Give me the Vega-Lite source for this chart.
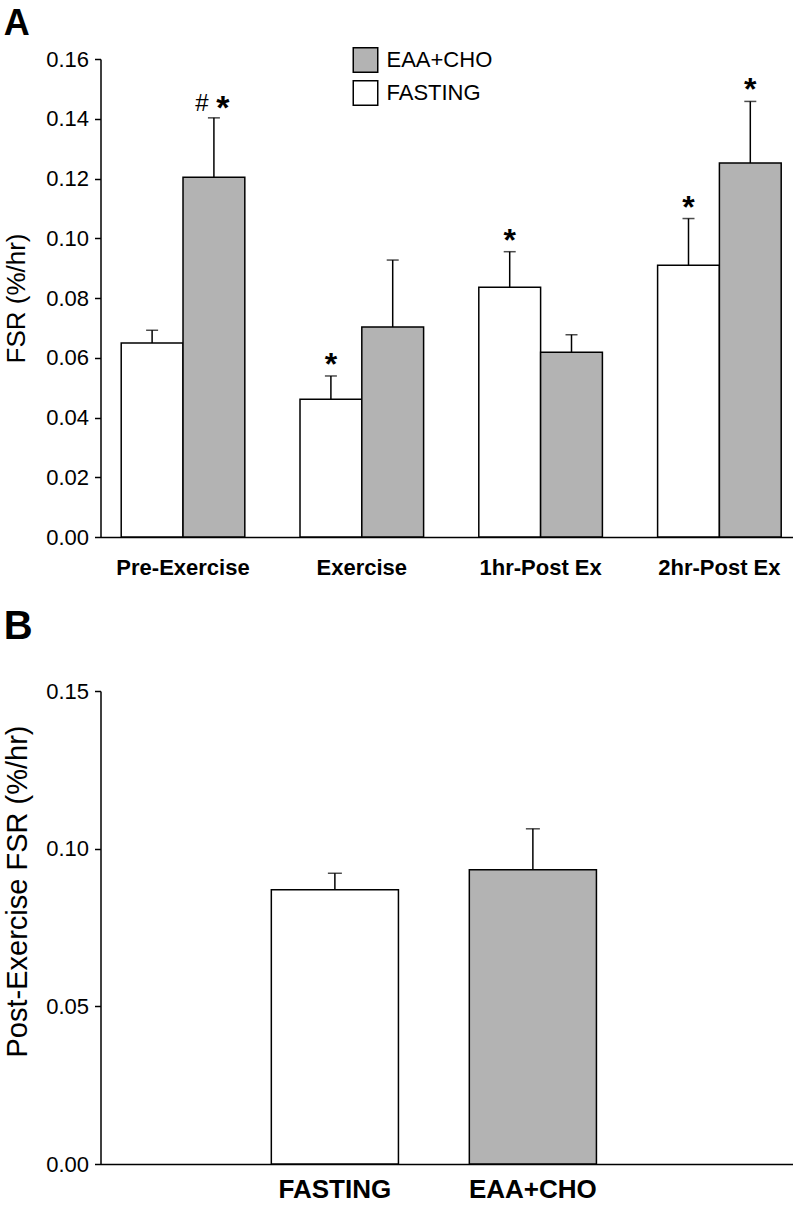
{
  "$schema": "https://vega.github.io/schema/vega-lite/v6.json",
  "padding": {"left": 3.5, "top": 6, "right": 4, "bottom": 0},
  "background": "white",
  "config": {
    "font": "Liberation Sans",
    "view": {"stroke": null},
    "axis": {"domainColor": "black", "domainWidth": 1.5, "tickColor": "black", "tickWidth": 1.5, "labelColor": "black", "titleColor": "black", "grid": false, "labelFont": "Liberation Sans", "titleFont": "Liberation Sans", "titleFontWeight": "normal"},
    "title": {"color": "black", "font": "Liberation Sans", "fontWeight": "bold"}
  },
  "spacing": 28,
  "resolve": {"scale": {"x": "independent", "y": "independent", "fill": "independent"}},
  "vconcat": [
    {
      "title": {"text": "A", "anchor": "start", "frame": "bounds", "fontSize": 36, "offset": 4},
      "width": 692,
      "height": 478,
      "data": {"values": [
        {"phase": "Pre-Exercise", "cond": "FASTING", "fsr": 0.0649, "upper": 0.0692, "star": "", "hash": ""},
        {"phase": "Pre-Exercise", "cond": "EAA+CHO", "fsr": 0.1204, "upper": 0.1403, "star": "*", "hash": "#"},
        {"phase": "Exercise", "cond": "FASTING", "fsr": 0.0461, "upper": 0.0539, "star": "*", "hash": ""},
        {"phase": "Exercise", "cond": "EAA+CHO", "fsr": 0.0703, "upper": 0.0927, "star": "", "hash": ""},
        {"phase": "1hr-Post Ex", "cond": "FASTING", "fsr": 0.0836, "upper": 0.0955, "star": "*", "hash": ""},
        {"phase": "1hr-Post Ex", "cond": "EAA+CHO", "fsr": 0.0618, "upper": 0.0677, "star": "", "hash": ""},
        {"phase": "2hr-Post Ex", "cond": "FASTING", "fsr": 0.0910, "upper": 0.1066, "star": "*", "hash": ""},
        {"phase": "2hr-Post Ex", "cond": "EAA+CHO", "fsr": 0.1252, "upper": 0.1458, "star": "*", "hash": ""}
      ]},
      "encoding": {
        "x": {"field": "phase", "type": "nominal", "sort": ["Pre-Exercise", "Exercise", "1hr-Post Ex", "2hr-Post Ex"],
              "scale": {"paddingInner": 0.3087, "paddingOuter": 0.0895, "align": 0.647},
              "axis": {"title": null, "labelAngle": 0, "labelFontSize": 22, "labelFontWeight": "bold", "ticks": false, "tickSize": 0, "labelPadding": 20}},
        "xOffset": {"field": "cond", "type": "nominal", "sort": ["FASTING", "EAA+CHO"], "scale": {"paddingInner": 0, "paddingOuter": 0}}
      },
      "layer": [
        {
          "mark": {"type": "bar", "stroke": "black", "strokeWidth": 1.5},
          "encoding": {
            "y": {"field": "fsr", "type": "quantitative", "scale": {"domain": [0, 0.16], "nice": false},
                  "axis": {"title": "FSR (%/hr)", "titleFontSize": 26, "values": [0, 0.02, 0.04, 0.06, 0.08, 0.1, 0.12, 0.14, 0.16], "format": ".2f", "labelFontSize": 22, "tickSize": 6, "labelPadding": 6, "titlePadding": 16}},
            "fill": {"field": "cond", "type": "nominal", "scale": {"domain": ["EAA+CHO", "FASTING"], "range": ["#b3b3b3", "#ffffff"]},
                     "legend": {"title": null, "orient": "none", "legendX": 252, "legendY": -12, "symbolType": "square", "symbolSize": 600, "symbolStrokeColor": "black", "symbolStrokeWidth": 1.5, "symbolOpacity": 1, "labelFontSize": 22, "labelColor": "black", "labelOffset": 8, "rowPadding": 1, "padding": 0}}
          }
        },
        {
          "mark": {"type": "rule", "color": "black", "strokeWidth": 1.5},
          "encoding": {"y": {"field": "fsr", "type": "quantitative"}, "y2": {"field": "upper"}}
        },
        {
          "mark": {"type": "tick", "color": "black", "size": 12, "thickness": 1.5, "orient": "horizontal"},
          "encoding": {"y": {"field": "upper", "type": "quantitative"}}
        },
        {
          "transform": [{"filter": "datum.star == '*' && datum.hash != '#'"}],
          "mark": {"type": "text", "fontSize": 32, "fontWeight": "bold", "baseline": "alphabetic", "dy": -1, "color": "black"},
          "encoding": {"y": {"field": "upper", "type": "quantitative"}, "text": {"field": "star"}}
        },
        {
          "transform": [{"filter": "datum.hash == '#'"}],
          "mark": {"type": "text", "fontSize": 34, "fontWeight": "bold", "baseline": "alphabetic", "dy": 1.5, "dx": 9, "color": "black"},
          "encoding": {"y": {"field": "upper", "type": "quantitative"}, "text": {"field": "star"}}
        },
        {
          "transform": [{"filter": "datum.hash == '#'"}],
          "mark": {"type": "text", "fontSize": 24, "baseline": "alphabetic", "dy": -7, "dx": -12, "color": "black"},
          "encoding": {"y": {"field": "upper", "type": "quantitative"}, "text": {"field": "hash"}}
        }
      ]
    },
    {
      "title": {"text": "B", "anchor": "start", "frame": "bounds", "fontSize": 40, "offset": 33.5},
      "width": 692,
      "height": 473,
      "data": {"values": [
        {"cond": "FASTING", "fsr": 0.0870, "upper": 0.0922},
        {"cond": "EAA+CHO", "fsr": 0.0933, "upper": 0.1063}
      ]},
      "encoding": {
        "x": {"field": "cond", "type": "nominal", "sort": ["FASTING", "EAA+CHO"],
              "scale": {"paddingInner": 0.358, "paddingOuter": 0.9265, "align": 0.4656},
              "axis": {"title": null, "labelAngle": 0, "labelFontSize": 26, "labelFontWeight": "bold", "ticks": false, "tickSize": 0, "labelPadding": 12}}
      },
      "layer": [
        {
          "mark": {"type": "bar", "stroke": "black", "strokeWidth": 1.5},
          "encoding": {
            "y": {"field": "fsr", "type": "quantitative", "scale": {"domain": [0, 0.15], "nice": false},
                  "axis": {"title": "Post-Exercise FSR (%/hr)", "titleFontSize": 29, "titleY": 200, "values": [0, 0.05, 0.1, 0.15], "format": ".2f", "labelFontSize": 22, "tickSize": 6, "labelPadding": 6, "titlePadding": 13}},
            "fill": {"field": "cond", "type": "nominal", "scale": {"domain": ["EAA+CHO", "FASTING"], "range": ["#b3b3b3", "#ffffff"]}, "legend": null}
          }
        },
        {
          "mark": {"type": "rule", "color": "black", "strokeWidth": 1.5},
          "encoding": {"y": {"field": "fsr", "type": "quantitative"}, "y2": {"field": "upper"}}
        },
        {
          "mark": {"type": "tick", "color": "black", "size": 14, "thickness": 1.5, "orient": "horizontal"},
          "encoding": {"y": {"field": "upper", "type": "quantitative"}}
        }
      ]
    }
  ]
}
